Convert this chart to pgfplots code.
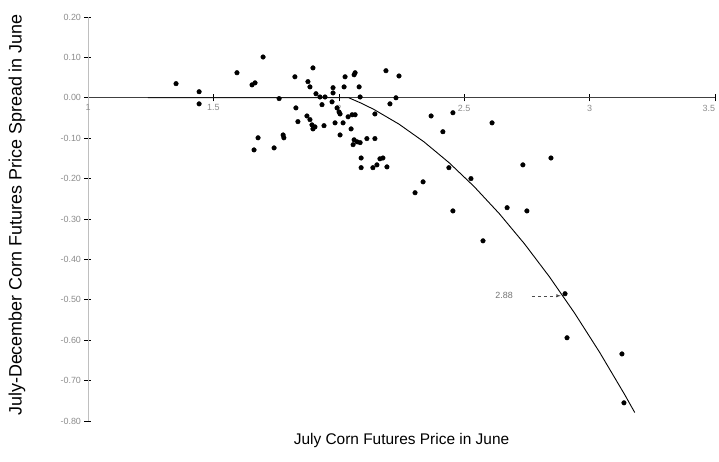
\documentclass[border=0pt]{standalone}
\usepackage{fontspec}
\setmainfont{Liberation Sans}
\usepackage{pgfplots}
\pgfplotsset{compat=1.18}
\begin{document}
\begin{tikzpicture}
\begin{axis}[
  scale only axis,
  width=627bp, height=404bp,
  xmin=1, xmax=3.5, ymin=-0.8, ymax=0.2,
  axis x line=middle, axis y line=left,
  x axis line style={-, black!75, line width=0.6pt},
  y axis line style={-, black!25, line width=0.4pt},
  hide obscured x ticks=false,
  xtick={1,1.5,2,2.5,3,3.5},
  xticklabels={1,1.5,2,2.5,3,\makebox[0pt][r]{3.5}},
  ytick={0.2,0.1,0,-0.1,-0.2,-0.3,-0.4,-0.5,-0.6,-0.7,-0.8},
  yticklabels={0.20,0.10,0.00,-0.10,-0.20,-0.30,-0.40,-0.50,-0.60,-0.70,-0.80},
  tick align=center, major tick length=7bp,
  tick style={black, line width=0.6pt},
  ticklabel style={font=\fontsize{9}{10}\selectfont, text=black!45},
  /pgf/number format/assume math mode=true,
  xlabel={July Corn Futures Price in June},
  ylabel={July-December Corn Futures Price Spread in June},
  xlabel style={at={(rel axis cs:0.5,0)}, anchor=center, yshift=-20bp, font=\fontsize{15.5}{18}\selectfont},
  ylabel style={at={(rel axis cs:0,0.51)}, anchor=center, yshift=71bp, font=\fontsize{18}{20}\selectfont},
  clip=false,
]
\addplot[only marks, mark=*, mark size=2.3bp, black] coordinates {
(1.351,0.035) (1.443,0.015) (1.443,-0.015) (1.594,0.062) (1.698,0.101)
(1.654,0.032) (1.666,0.037) (1.762,-0.002) (1.825,0.052) (1.897,0.074)
(1.877,0.040) (1.885,0.027) (1.829,-0.025) (1.837,-0.059) (1.873,-0.045)
(1.885,-0.054) (1.893,-0.067) (1.897,-0.077) (1.905,-0.072) (1.678,-0.099)
(1.662,-0.129) (1.742,-0.124) (1.778,-0.092) (1.781,-0.099) (1.909,0.010)
(1.925,0.002) (1.933,-0.017) (1.945,0.002) (1.973,-0.010) (1.977,0.025)
(1.977,0.012) (1.941,-0.069) (1.985,-0.062) (1.993,-0.025) (2.001,-0.035)
(2.005,-0.040) (2.025,0.052) (2.021,0.027) (2.061,0.057) (2.065,0.062)
(2.081,0.027) (2.085,0.002) (2.037,-0.047) (2.053,-0.042) (2.065,-0.042)
(2.017,-0.062) (2.049,-0.077) (2.005,-0.092) (2.061,-0.104) (2.073,-0.109)
(2.085,-0.111) (2.057,-0.116) (2.112,-0.101) (2.144,-0.101) (2.144,-0.040)
(2.089,-0.149) (2.089,-0.173) (2.136,-0.173) (2.152,-0.166) (2.164,-0.151)
(2.176,-0.149) (2.192,-0.171) (2.188,0.067) (2.240,0.054) (2.228,0.000)
(2.204,-0.015) (2.336,-0.208) (2.368,-0.045) (2.415,-0.084) (2.439,-0.173)
(2.304,-0.235) (2.527,-0.200) (2.455,-0.280) (2.671,-0.272) (2.750,-0.280)
(2.734,-0.166) (2.846,-0.149) (2.575,-0.354) (2.902,-0.485) (2.910,-0.594)
(3.129,-0.634) (3.137,-0.755) (2.455,-0.037) (2.611,-0.062)
};
\addplot[black, line width=0.9pt] coordinates {
(1.239,0) (2.040,0) (2.090,-0.0135) (2.140,-0.0288) (2.240,-0.0652)
(2.340,-0.1092) (2.440,-0.1608) (2.540,-0.2200) (2.640,-0.2868)
(2.740,-0.3612) (2.840,-0.4432) (2.940,-0.5328) (3.040,-0.6300)
(3.140,-0.7348) (3.180,-0.7790)
};
\node[font=\fontsize{9}{10}\selectfont, text=black!55] at (axis cs:2.659,-0.490) {2.88};
\draw[dashed, black!70, -latex, line width=0.5pt] (axis cs:2.770,-0.490) -- (axis cs:2.885,-0.490);
\end{axis}
\pgfresetboundingbox
\path[use as bounding box] ([xshift=-88bp,yshift=-41bp]current axis.south west) rectangle ([xshift=4bp,yshift=17bp]current axis.north east);
\end{tikzpicture}
\end{document}
